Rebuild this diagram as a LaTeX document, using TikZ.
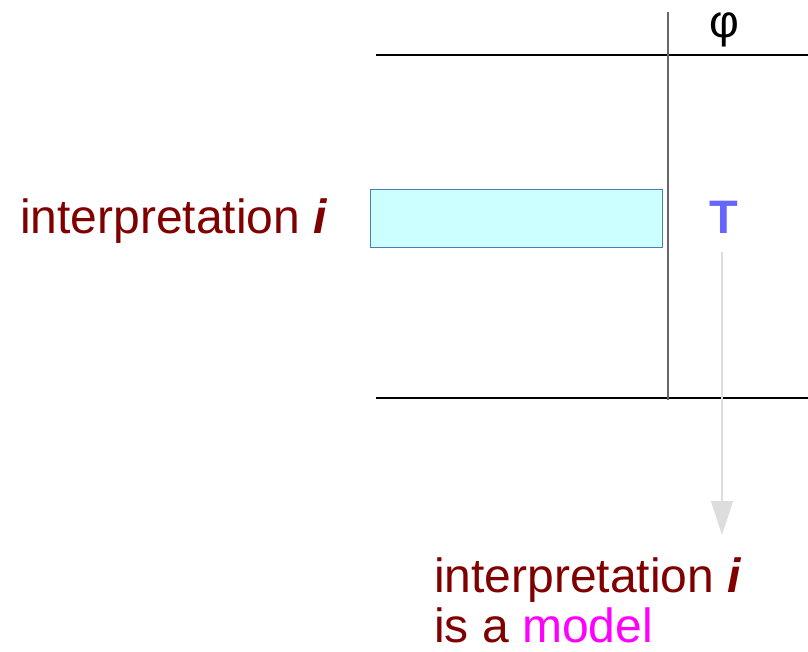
\documentclass[tikz,border=0pt]{standalone}
\usepackage{fontspec}
\setmainfont{Liberation Sans}
\usetikzlibrary{arrows.meta}
\definecolor{darkred}{HTML}{800000}
\definecolor{modelpink}{HTML}{FF00FF}
\definecolor{cellfill}{HTML}{CCFFFF}
\definecolor{celledge}{HTML}{4A7EBB}
\definecolor{truthblue}{HTML}{6666FF}
\definecolor{arrowgray}{HTML}{DDDDDD}
\definecolor{rulegray}{HTML}{666666}
\tikzset{
  label text/.style={inner sep=0pt, anchor=base west, text=darkred,
    font=\fontsize{48}{50}\selectfont},
  rule/.style={line width=1.2pt, black},
}
\begin{document}
\begin{tikzpicture}[x=1pt, y=-1pt]
  \useasboundingbox (0,0) rectangle (808,651);
  % table rules
  \draw[rule] (376,55) -- (808,55);
  \draw[rule] (376,398) -- (808,398);
  \draw[line width=1.5pt, rulegray] (668,12) -- (668,400);
  % column header
  \node[inner sep=0pt, anchor=base, font=\fontsize{46}{48}\selectfont] (phi) at (724,37) {φ};
  % highlighted row cell
  \node[draw=celledge, fill=cellfill, line width=0.8pt, inner sep=0pt,
        minimum width=292pt, minimum height=58pt, anchor=north west] (cell) at (370,189) {};
  % truth value
  \node[inner sep=0pt, anchor=base, text=truthblue,
        font=\fontsize{47}{50}\selectfont\bfseries] (T) at (724,233) {T};
  % row label
  \node[label text] (interp) at (20,233) {interpretation \textbf{\textit{i}}};
  % conclusion
  \node[label text] (concl1) at (434,592) {interpretation \textbf{\textit{i}}};
  \node[label text, text depth=0pt] (concl2) at (434,642) {is a \textcolor{modelpink}{model}};
  \coordinate (tip) at (722,535);
  \draw[arrowgray, line width=1.5pt, -{Triangle[width=22pt, length=34pt]}]
    (T.south -| tip) ++(0,19) -- (tip);
\end{tikzpicture}
\end{document}
